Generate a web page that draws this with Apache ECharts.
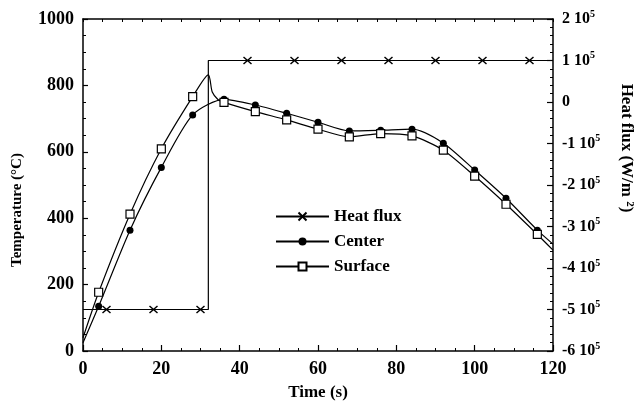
<!DOCTYPE html>
<html><head><meta charset="utf-8">
<script src="https://cdn.jsdelivr.net/npm/echarts@6/dist/echarts.min.js"></script>
<style>html,body{margin:0;padding:0;background:#fff}#c{width:642px;height:410px}</style>
</head><body><div id="c"></div>
<script>
// Heat flux (W/m2), right axis
const fluxTime   = [0, 6, 18, 30, 32, 32, 42, 54, 66, 78, 90, 102, 114, 120];
const fluxValue  = [-5e5, -5e5, -5e5, -5e5, -5e5, 1e5, 1e5, 1e5, 1e5, 1e5, 1e5, 1e5, 1e5, 1e5];
const fluxMarked = [0, 1, 1, 1, 0, 0, 1, 1, 1, 1, 1, 1, 1, 0];
// Center temperature (°C)
const centerTime   = [0, 4, 12, 20, 28, 36, 44, 52, 60, 68, 76, 84, 92, 100, 108, 116, 120];
const centerTemp   = [25, 135, 364, 553, 711, 758, 741, 716, 689, 663, 665, 668, 626, 545, 460, 364, 322];
const centerMarked = [0, 1, 1, 1, 1, 1, 1, 1, 1, 1, 1, 1, 1, 1, 1, 1, 0];
// Surface temperature (°C)
const surfaceTime   = [0, 4, 12, 20, 28, 32, 33, 34.5, 36, 44, 52, 60, 68, 76, 84, 92, 100, 108, 116, 120];
const surfaceTemp   = [40, 177, 412, 609, 766, 832, 780, 757, 749, 721, 696, 668, 645, 655, 648, 605, 527, 442, 351, 304];
const surfaceMarked = [0, 1, 1, 1, 1, 0, 0, 0, 1, 1, 1, 1, 1, 1, 1, 1, 1, 1, 1, 0];
// Axis tick labels
const timeTicks = [0, 20, 40, 60, 80, 100, 120];
const tempTicks = [0, 200, 400, 600, 800, 1000];
const fluxTicks = [-6, -5, -4, -3, -2, -1, 0, 1, 2];

const FONT = "'Liberation Serif', 'Times New Roman', serif";
const CROSS = 'path://M0,0L10,10M10,0L0,10';

function build(t, v, m) {
  return t.map((x, i) => m[i] ? [x, v[i]] : { value: [x, v[i]], symbol: 'none' });
}

const chart = echarts.init(document.getElementById('c'), null, { renderer: 'canvas' });
const axisLine = { show: true, onZero: false, lineStyle: { color: '#000', width: 1.5 } };
const labelStyle = { color: '#000', fontFamily: FONT, fontWeight: 'bold', fontSize: 18 };
const nameStyle = { color: '#000', fontFamily: FONT, fontWeight: 'bold', fontSize: 17 };

chart.setOption({
  animation: false,
  backgroundColor: '#fff',
  textStyle: { fontFamily: FONT },
  grid: { left: 83, right: 89, top: 19, bottom: 59, containLabel: false },
  legend: {
    orient: 'vertical', left: 270, top: 203, itemWidth: 53, itemHeight: 10, itemGap: 8,
    data: ['Heat flux', 'Center', 'Surface'],
    textStyle: { color: '#000', fontFamily: FONT, fontWeight: 'bold', fontSize: 17, padding: [0, 0, 0, 0] }
  },
  xAxis: [{
    type: 'value', min: 0, max: 120, interval: 20, position: 'bottom',
    axisLine: axisLine,
    axisTick: { show: true, inside: true, length: 6, lineStyle: { color: '#000', width: 1.2 } },
    minorTick: { show: true, splitNumber: 4, length: 3, lineStyle: { color: '#000', width: 1 } },
    splitLine: { show: false },
    axisLabel: Object.assign({ margin: 9, formatter: v => timeTicks.includes(v) ? String(v) : '' }, labelStyle),
    name: 'Time (s)', nameLocation: 'middle', nameGap: 33,
    nameTextStyle: nameStyle
  }, {
    type: 'value', min: 0, max: 120, interval: 5, position: 'top',
    axisLine: axisLine,
    axisTick: { show: true, inside: true, length: 3, lineStyle: { color: '#000', width: 1 } },
    axisLabel: { show: false }, splitLine: { show: false }
  }],
  yAxis: [{
    type: 'value', min: 0, max: 1000, interval: 200, position: 'left',
    axisLine: axisLine,
    axisTick: { show: true, inside: true, length: 5, lineStyle: { color: '#000', width: 1.2 } },
    minorTick: { show: true, splitNumber: 4, length: 3, lineStyle: { color: '#000', width: 1 } },
    splitLine: { show: false },
    axisLabel: Object.assign({ margin: 9, formatter: v => tempTicks.includes(v) ? String(v) : '' }, labelStyle)
  }, {
    type: 'value', min: -6e5, max: 2e5, interval: 1e5, position: 'right',
    axisLine: axisLine,
    axisTick: { show: true, inside: true, length: 6, lineStyle: { color: '#000', width: 1.2 } },
    minorTick: { show: true, splitNumber: 5, length: 3, lineStyle: { color: '#000', width: 1 } },
    splitLine: { show: false },
    axisLabel: {
      margin: 9, color: '#000', fontFamily: FONT, fontWeight: 'bold', fontSize: 16,
      formatter: v => {
        const k = Math.round(v / 1e5);
        if (!fluxTicks.includes(k)) return '';
        return k === 0 ? '{n|0}' : '{n|' + k + ' 10}{s|5}';
      },
      rich: {
        n: { color: '#000', fontFamily: FONT, fontWeight: 'bold', fontSize: 16, lineHeight: 20 },
        s: { color: '#000', fontFamily: FONT, fontWeight: 'bold', fontSize: 10, lineHeight: 20, verticalAlign: 'top' }
      }
    }
  }],
  graphic: [{
    type: 'text', rotation: Math.PI / 2, x: 17, y: 210,
    style: { text: 'Temperature (°C)', fill: '#000', font: 'bold 15px ' + FONT, align: 'center', verticalAlign: 'middle' }
  }, {
    type: 'text', rotation: -Math.PI / 2, x: 626, y: 148,
    style: {
      text: 'Heat flux (W/m {s|2})', fill: '#000', font: 'bold 17px ' + FONT, align: 'center', verticalAlign: 'middle',
      rich: { s: { fill: '#000', font: 'bold 11px ' + FONT, verticalAlign: 'top', lineHeight: 18 } }
    }
  }],
  series: [{
    name: 'Heat flux', type: 'line', xAxisIndex: 0, yAxisIndex: 1,
    data: build(fluxTime, fluxValue, fluxMarked),
    symbol: CROSS, symbolSize: [8, 7], showAllSymbol: true,
    lineStyle: { color: '#000', width: 1.2 },
    itemStyle: { color: '#000', borderColor: '#000', borderWidth: 1.3 }
  }, {
    name: 'Center', type: 'line', xAxisIndex: 0, yAxisIndex: 0,
    data: build(centerTime, centerTemp, centerMarked), smooth: 0.25,
    symbol: 'circle', symbolSize: 7, showAllSymbol: true,
    lineStyle: { color: '#000', width: 1.2 },
    itemStyle: { color: '#000', borderColor: '#000', borderWidth: 0 }
  }, {
    name: 'Surface', type: 'line', xAxisIndex: 0, yAxisIndex: 0,
    data: build(surfaceTime, surfaceTemp, surfaceMarked), smooth: 0.25,
    symbol: 'rect', symbolSize: 8, showAllSymbol: true,
    lineStyle: { color: '#000', width: 1.2 },
    itemStyle: { color: '#fff', borderColor: '#000', borderWidth: 1.2 }
  }]
});
</script></body></html>
